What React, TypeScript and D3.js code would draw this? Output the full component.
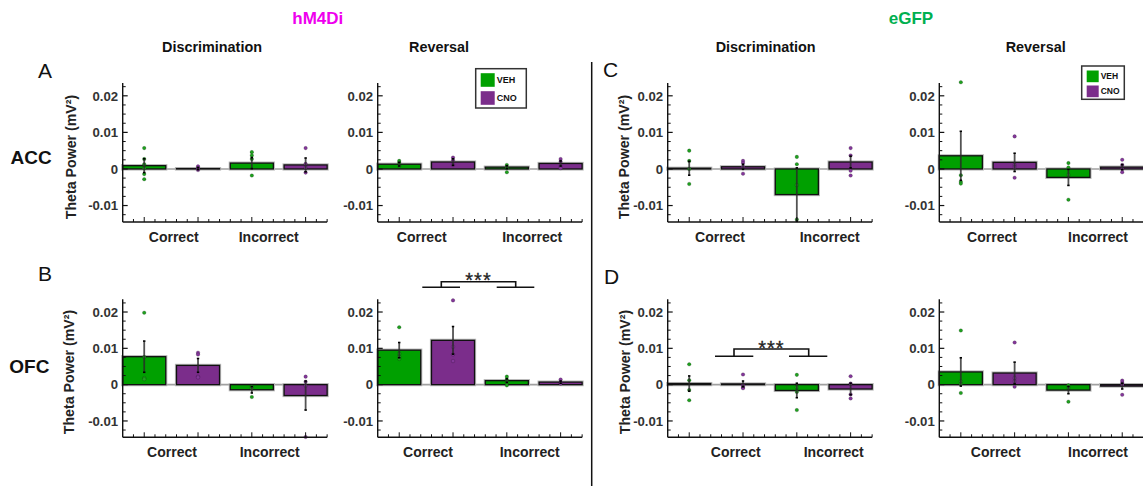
import React from "react";
import * as d3 from "d3";

// ---------- data ----------
const conditions = ["VEH", "CNO"];
const outcomes = ["Correct", "Incorrect"];
const barKeys = ["VEH-Correct", "CNO-Correct", "VEH-Incorrect", "CNO-Incorrect"];
const yMajorTicks = [-0.01, 0, 0.01, 0.02];
const yTickLabels = ["-0.01", "0", "0.01", "0.02"];
const groupTitles = ["hM4Di", "eGFP"];
const taskTitles = ["Discrimination", "Reversal"];
const regionLabels = ["ACC", "OFC"];
const panelLetters = ["A", "B", "C", "D"];

// ACC, hM4Di, Discrimination
const accHm4diDiscMean = [0.0009, 0.0001, 0.0016, 0.0011];
const accHm4diDiscSem = [0.0019, 0.0003, 0.0015, 0.0019];
const accHm4diDiscPts = [
  [0.0057, 0.0027, 0.0013, 0.0002, -0.0014, -0.0028],
  [0.0007, 0.0002, -0.0003],
  [0.0046, 0.0037, 0.0027, -0.0018],
  [0.0057, 0.0014, 0.0004, -0.001],
];
// ACC, hM4Di, Reversal
const accHm4diRevMean = [0.0013, 0.0019, 0.0005, 0.0015];
const accHm4diRevSem = [0.0005, 0.0009, 0.0004, 0.0007];
const accHm4diRevPts = [
  [0.0022, 0.0017, 0.0008],
  [0.0031, 0.0024, 0.0011],
  [0.0011, 0.0003, -0.0009],
  [0.0027, 0.002, 0.0008, 0.0002],
];
// ACC, eGFP, Discrimination
const accEgfpDiscMean = [0.0002, 0.0006, -0.007, 0.0019];
const accEgfpDiscSem = [0.0019, 0.0007, 0.0073, 0.0016];
const accEgfpDiscPts = [
  [0.005, 0.0022, 0, -0.0041],
  [0.0022, 0.0016, 0.0006, -0.0013],
  [0.0033, 0.0013, -0.0044, -0.0138],
  [0.0057, 0.0037, -0.0005, -0.0018],
];
// ACC, eGFP, Reversal
const accEgfpRevMean = [0.0036, 0.0018, -0.0023, 0.0005];
const accEgfpRevSem = [0.0067, 0.0025, 0.0022, 0.0007];
const accEgfpRevPts = [
  [0.0237, -0.0017, -0.0035, -0.004],
  [0.0089, 0.0011, 0.0005, -0.0024],
  [0.0016, 0.0004, -0.0016, -0.0084],
  [0.0025, 0.0011, 0, -0.0009],
];
// OFC, hM4Di, Discrimination
const ofcHm4diDiscMean = [0.0077, 0.0053, -0.0014, -0.003];
const ofcHm4diDiscSem = [0.0043, 0.0019, 0.0009, 0.004];
const ofcHm4diDiscPts = [
  [0.0198, 0.0076, 0.0018, 0.0015],
  [0.0088, 0.0083, 0.0022, 0.002],
  [-0.0005, -0.001, -0.0034],
  [0.0022, 0.0008, -0.0003, -0.0144],
];
// OFC, hM4Di, Reversal
const ofcHm4diRevMean = [0.0095, 0.0122, 0.0011, 0.0007];
const ofcHm4diRevSem = [0.0021, 0.0038, 0.0005, 0.0003];
const ofcHm4diRevPts = [
  [0.0158, 0.0085, 0.0077, 0.0071],
  [0.0232, 0.0104, 0.0083, 0.0065],
  [0.0022, 0.0014, 0.0005, -0.0002],
  [0.0014, 0.0005, 0.0003],
];
// OFC, eGFP, Discrimination
const ofcEgfpDiscMean = [0.0003, 0.0002, -0.0016, -0.0012];
const ofcEgfpDiscSem = [0.0021, 0.0008, 0.002, 0.0016];
const ofcEgfpDiscPts = [
  [0.0056, 0.0012, -0.0015, -0.0043],
  [0.0028, -0.0002, -0.0007, -0.001],
  [0.0027, -0.0007, -0.002, -0.007],
  [0.0023, 0.0003, -0.0027, -0.0038],
];
// OFC, eGFP, Reversal
const ofcEgfpRevMean = [0.0035, 0.0032, -0.0015, -0.0004];
const ofcEgfpRevSem = [0.0039, 0.003, 0.001, 0.0008];
const ofcEgfpRevPts = [
  [0.0149, 0.0009, 0.0002, -0.0023],
  [0.0116, 0.0018, 0.0009, -0.0006],
  [-0.0002, -0.0047, -0.0008],
  [0.0011, 0.0005, 0, -0.0028],
];

// ---------- layout ----------
const W = 1143;
const H = 486;
const FONT = "'Liberation Sans', Arial, sans-serif";
const COLORS: Record<string, string> = { VEH: "#00a000", CNO: "#7b2d8b" };
const DOT_COLORS: Record<string, string> = { VEH: "#1fa01f", CNO: "#84379a" };
const rows = [
  { top: 83, bottom: 222, labelY: 241.5 },
  { top: 299.3, bottom: 437.3, labelY: 457 },
];
const yDomain: [number, number] = [-0.0145, 0.0235];
const STEP = 53.8;

type Panel = {
  mean: number[];
  sem: number[];
  pts: number[][];
  axisX: number;
  row: number;
  labelOffsets: [number, number];
};

const panels: Panel[] = [
  { mean: accHm4diDiscMean, sem: accHm4diDiscSem, pts: accHm4diDiscPts, axisX: 122.7, row: 0, labelOffsets: [51, 146] },
  { mean: accHm4diRevMean, sem: accHm4diRevSem, pts: accHm4diRevPts, axisX: 377.7, row: 0, labelOffsets: [44, 154.5] },
  { mean: accEgfpDiscMean, sem: accEgfpDiscSem, pts: accEgfpDiscPts, axisX: 667.7, row: 0, labelOffsets: [52.3, 162] },
  { mean: accEgfpRevMean, sem: accEgfpRevSem, pts: accEgfpRevPts, axisX: 939.3, row: 0, labelOffsets: [52.7, 158.7] },
  { mean: ofcHm4diDiscMean, sem: ofcHm4diDiscSem, pts: ofcHm4diDiscPts, axisX: 122.7, row: 1, labelOffsets: [49.3, 147] },
  { mean: ofcHm4diRevMean, sem: ofcHm4diRevSem, pts: ofcHm4diRevPts, axisX: 377.7, row: 1, labelOffsets: [50.3, 152] },
  { mean: ofcEgfpDiscMean, sem: ofcEgfpDiscSem, pts: ofcEgfpDiscPts, axisX: 667.7, row: 1, labelOffsets: [68, 166] },
  { mean: ofcEgfpRevMean, sem: ofcEgfpRevSem, pts: ofcEgfpRevPts, axisX: 939.3, row: 1, labelOffsets: [56.4, 158.7] },
];

function PanelChart({ p }: { p: Panel }) {
  const row = rows[p.row];
  const L = 3.8 * STEP;
  const x = d3.scaleBand<string>().domain(barKeys).range([p.axisX, p.axisX + L]).paddingInner(0.2).paddingOuter(0);
  const y = d3.scaleLinear().domain(yDomain).range([row.bottom, row.top]);
  const minor = d3.range(-0.0125, 0.0236, 0.0025).filter((v) => !yMajorTicks.some((m) => Math.abs(m - v) < 1e-6));
  const xTicks = d3.range(1, 20).map((k) => ({ k, xv: p.axisX + (k * x.step()) / 5 }));
  const bw = x.bandwidth();
  return (
    <g>
      {/* zero line */}
      <line x1={p.axisX} x2={p.axisX + L} y1={y(0)} y2={y(0)} stroke="#a0a0a0" strokeWidth={1.6} />
      {barKeys.map((k, i) => {
        const cond = k.split("-")[0];
        const m = p.mean[i];
        const y0 = Math.min(y(0), y(m));
        const h = Math.abs(y(m) - y(0));
        const cx = (x(k) as number) + bw / 2;
        return (
          <g key={k}>
            <rect x={x(k)} y={y0} width={bw} height={h} fill="none" stroke="#b8b8b8" strokeWidth={3.2} />
            <rect x={x(k)} y={y0} width={bw} height={h} fill={COLORS[cond]} stroke="#111" strokeWidth={1.3} />
            {p.pts[i].map((v, j) => (
              <circle key={j} cx={cx} cy={y(v)} r={1.8} fill={DOT_COLORS[cond]} stroke="rgba(0,0,0,0.35)" strokeWidth={0.5} />
            ))}
            <line x1={cx} x2={cx} y1={y(m + p.sem[i])} y2={y(m - p.sem[i])} stroke="rgba(40,40,40,0.8)" strokeWidth={1.8} />
            <line x1={cx - 1.2} x2={cx + 1.2} y1={y(m + p.sem[i])} y2={y(m + p.sem[i])} stroke="#000" strokeWidth={1.6} />
            <line x1={cx - 1.2} x2={cx + 1.2} y1={y(m - p.sem[i])} y2={y(m - p.sem[i])} stroke="#000" strokeWidth={1.6} />
          </g>
        );
      })}
      {/* axes */}
      <line x1={p.axisX} x2={p.axisX} y1={row.top} y2={row.bottom} stroke="#111" strokeWidth={1.4} />
      <line x1={p.axisX} x2={p.axisX + L} y1={row.bottom} y2={row.bottom} stroke="#111" strokeWidth={1.4} />
      {yMajorTicks.map((v, i) => (
        <g key={v}>
          <line x1={p.axisX} x2={p.axisX + 5} y1={y(v)} y2={y(v)} stroke="#111" strokeWidth={1.2} />
          <text x={p.axisX - 4.5} y={y(v)} dy="0.36em" textAnchor="end" fontFamily={FONT} fontWeight="bold" fontSize={13.2} fill="#333">
            {yTickLabels[i]}
          </text>
        </g>
      ))}
      {minor.map((v) => (
        <line key={v} x1={p.axisX} x2={p.axisX + 3} y1={y(v)} y2={y(v)} stroke="#111" strokeWidth={1} />
      ))}
      {xTicks.map(({ k, xv }) => (
        <line key={k} x1={xv} x2={xv} y1={row.bottom} y2={row.bottom - (k % 5 === 2 ? 5 : 3)} stroke="#111" strokeWidth={1} />
      ))}
      {outcomes.map((o, i) => (
        <text key={o} x={p.axisX + p.labelOffsets[i]} y={row.labelY} textAnchor="middle" fontFamily={FONT} fontWeight="bold" fontSize={14} fill="#222">
          {o}
        </text>
      ))}
    </g>
  );
}

function Legend({ x, y, w, h, sw, sh, gap, fs }: { x: number; y: number; w: number; h: number; sw: number; sh: number; gap: number; fs: number }) {
  return (
    <g>
      <rect x={x} y={y} width={w} height={h} fill="#fff" stroke="#333" strokeWidth={1.5} />
      {conditions.map((c, i) => (
        <g key={c}>
          <rect x={x + 5} y={y + 4.5 + i * (sh + gap)} width={sw} height={sh} fill={COLORS[c]} />
          <text x={x + 7 + sw} y={y + 4.5 + i * (sh + gap) + sh / 2} dy="0.35em" fontFamily={FONT} fontWeight="bold" fontSize={fs} fill="#111">
            {c}
          </text>
        </g>
      ))}
    </g>
  );
}

function Bracket({ xl1, xl2, xr1, xr2, xt1, xt2, yLow, yTop, textY }: any) {
  return (
    <g stroke="#111" strokeWidth={1.6} fill="none">
      <line x1={xl1} x2={xl2} y1={yLow} y2={yLow} />
      <line x1={xr1} x2={xr2} y1={yLow} y2={yLow} />
      <polyline points={`${xt1},${yLow} ${xt1},${yTop} ${xt2},${yTop} ${xt2},${yLow}`} />
      <text x={(xt1 + xt2) / 2} y={textY} textAnchor="middle" fontFamily={FONT} fontSize={20} letterSpacing={1} fill="#222" stroke="#222" strokeWidth={0.3}>
        ***
      </text>
    </g>
  );
}

export default function App() {
  const yLabel = "Theta Power (mV²)";
  return (
    <svg width={W} height={H} style={{ position: "absolute", left: 0, top: 0, background: "#fff" }}>
      <rect width={W} height={H} fill="#fff" />
      {/* group titles */}
      <text x={317.8} y={24} textAnchor="middle" fontFamily={FONT} fontWeight="bold" fontSize={17} fill="#ee00ee">{groupTitles[0]}</text>
      <text x={911} y={24} textAnchor="middle" fontFamily={FONT} fontWeight="bold" fontSize={17} fill="#00b050">{groupTitles[1]}</text>
      {/* task titles */}
      {[212, 765.7].map((cx) => (
        <text key={cx} x={cx} y={52} textAnchor="middle" fontFamily={FONT} fontWeight="bold" fontSize={14.4} fill="#111">{taskTitles[0]}</text>
      ))}
      {[439, 1035.7].map((cx) => (
        <text key={cx} x={cx} y={52} textAnchor="middle" fontFamily={FONT} fontWeight="bold" fontSize={14.4} fill="#111">{taskTitles[1]}</text>
      ))}
      {/* panel letters */}
      <text x={38} y={78} fontFamily={FONT} fontSize={21} fill="#111">{panelLetters[0]}</text>
      <text x={38} y={281} fontFamily={FONT} fontSize={21} fill="#111">{panelLetters[1]}</text>
      <text x={603} y={77} fontFamily={FONT} fontSize={21} fill="#111">{panelLetters[2]}</text>
      <text x={604} y={284} fontFamily={FONT} fontSize={21} fill="#111">{panelLetters[3]}</text>
      {/* region labels */}
      <text x={10.5} y={164} fontFamily={FONT} fontWeight="bold" fontSize={19} fill="#111">{regionLabels[0]}</text>
      <text x={9.3} y={373} fontFamily={FONT} fontWeight="bold" fontSize={19} fill="#111">{regionLabels[1]}</text>
      {/* y-axis labels */}
      {[
        [71, 157],
        [624.5, 157],
        [69.5, 372],
        [625, 372],
      ].map(([cx, cy], i) => (
        <text key={i} transform={`translate(${cx},${cy}) rotate(-90)`} textAnchor="middle" dy="0.35em" fontFamily={FONT} fontWeight="bold" fontSize={14.2} fill="#222">
          {yLabel}
        </text>
      ))}
      {/* separator */}
      <line x1={591.7} x2={591.7} y1={62} y2={H} stroke="#111" strokeWidth={1.5} />
      {panels.map((p, i) => (
        <PanelChart key={i} p={p} />
      ))}
      <Legend x={475.7} y={68.7} w={50.6} h={39.3} sw={14} sh={13.6} gap={4.4} fs={9} />
      <Legend x={1081.7} y={66} w={42.6} h={33.3} sw={12} sh={11.7} gap={3.3} fs={8.5} />
      <Bracket xl1={422.3} xl2={460} xr1={496.7} xr2={534.3} xt1={441.3} xt2={515.7} yLow={287.3} yTop={281.7} textY={287} />
      <Bracket xl1={715} xl2={753.3} xr1={789} xr2={827.3} xt1={734} xt2={808.7} yLow={356.3} yTop={349} textY={354.5} />
    </svg>
  );
}
